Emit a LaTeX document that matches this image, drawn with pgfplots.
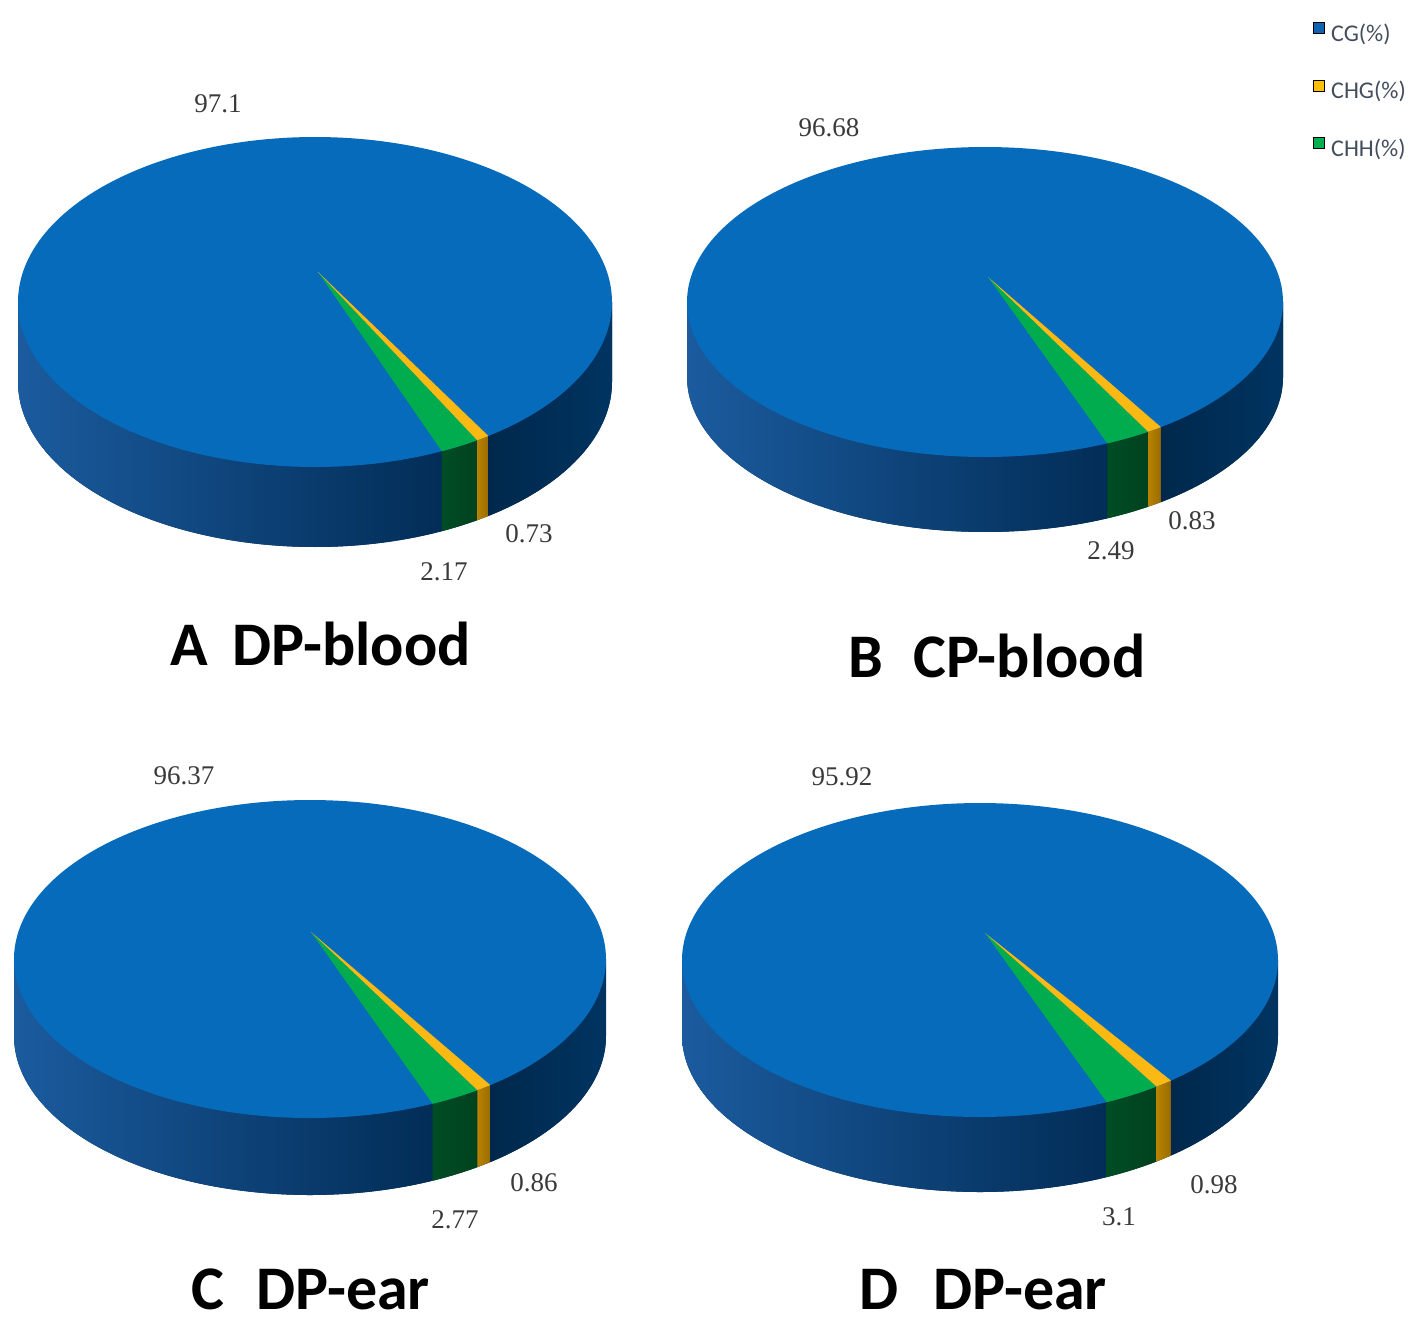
\documentclass[border=0pt]{standalone}
\usepackage{fontspec}
\setmainfont{Carlito}
\newfontfamily\lserif{Liberation Serif}
\usepackage{pgfplots}
\pgfplotsset{compat=1.18}
\definecolor{topblue}{HTML}{066BBA}
\definecolor{topgreen}{HTML}{00AC4E}
\definecolor{topyellow}{HTML}{FDB913}
\definecolor{sideL}{HTML}{1B5B9E}
\definecolor{sideM}{HTML}{0F4E8D}
\definecolor{sideR}{HTML}{022D57}
\definecolor{sideRR}{HTML}{00284C}
\definecolor{sideRRR}{HTML}{003461}
\definecolor{sidegreenL}{HTML}{004D24}
\definecolor{sidegreenR}{HTML}{00421E}
\definecolor{sideyellowL}{HTML}{B88300}
\definecolor{sideyellowR}{HTML}{9A6C00}
\definecolor{labgray}{HTML}{3A3A3A}
\definecolor{legtext}{HTML}{434D5B}
\definecolor{legblue}{HTML}{0F63B0}
\definecolor{legyellow}{HTML}{FFC000}
\definecolor{leggreen}{HTML}{00B050}

% #1 cx, #2 cy, #3 rx, #4 ry, #5 depth, #6 apex x, #7 apex y, #8 mid angle of small slices
% slice values in \vCHG and \vCHH (CG takes the rest)
\newcommand{\drawpie}[8]{%
 \pgfmathsetmacro\ye{360+#8+(\vCHG+\vCHH)*1.8}%
 \pgfmathsetmacro\ys{\ye-\vCHG*3.6}%
 \pgfmathsetmacro\gs{\ys-\vCHH*3.6}%
 \pgfmathsetmacro\xgs{#1+#3*cos(\gs)}%
 \pgfmathsetmacro\xys{#1+#3*cos(\ys)}%
 \pgfmathsetmacro\xye{#1+#3*cos(\ye)}%
 \pgfmathsetmacro\xL{#1-#3}%
 \pgfmathsetmacro\xR{#1+#3}%
 \edef\doit{%
  \noexpand\addplot[draw=none, fill=sideR, domain=180:360, samples=150, forget plot]
    ({#1+#3*cos(x)},{#2+#5-#4*sin(x)}) -- (axis cs:\xR,#2) -- (axis cs:\xL,#2) -- cycle;
  \noexpand\addplot[draw=none, left color=sideL, middle color=sideM, right color=sideR, domain=180:\gs, samples=120, forget plot]
    ({#1+#3*cos(x)},{#2+#5-#4*sin(x)}) -- (axis cs:\xgs,#2) -- (axis cs:\xL,#2) -- cycle;
  \noexpand\addplot[draw=none, left color=sidegreenL, right color=sidegreenR, domain=\gs:\ys, samples=20, forget plot]
    ({#1+#3*cos(x)},{#2+#5-#4*sin(x)}) -- (axis cs:\xys,#2) -- (axis cs:\xgs,#2) -- cycle;
  \noexpand\addplot[draw=none, left color=sideyellowL, right color=sideyellowR, domain=\ys:\ye, samples=10, forget plot]
    ({#1+#3*cos(x)},{#2+#5-#4*sin(x)}) -- (axis cs:\xye,#2) -- (axis cs:\xys,#2) -- cycle;
  \noexpand\addplot[draw=none, left color=sideRR, right color=sideRRR, domain=\ye:360, samples=80, forget plot]
    ({#1+#3*cos(x)},{#2+#5-#4*sin(x)}) -- (axis cs:\xR,#2) -- (axis cs:\xye,#2) -- cycle;
  \noexpand\addplot[draw=none, fill=topblue, domain=0:360, samples=240, forget plot]
    ({#1+#3*cos(x)},{#2-#4*sin(x)}) -- cycle;
  \noexpand\addplot[draw=none, fill=topgreen, domain=\gs:\ys, samples=20, forget plot]
    ({#1+#3*cos(x)},{#2-#4*sin(x)}) -- (axis cs:#6,#7) -- cycle;
  \noexpand\addplot[draw=none, fill=topyellow, domain=\ys:\ye, samples=10, forget plot]
    ({#1+#3*cos(x)},{#2-#4*sin(x)}) -- (axis cs:#6,#7) -- cycle;
 }\doit
}

\begin{document}
\begin{tikzpicture}
\begin{axis}[
  width=708.5pt, height=666pt, scale only axis,
  xmin=0, xmax=1417, ymin=0, ymax=1332, y dir=reverse,
  hide axis, clip=false,
  legend image code/.code={\fill[#1] (0pt,0.75pt) rectangle (5.5pt,6.25pt);},
  legend cell align=left,
  legend style={at={(axis cs:1313,21)}, anchor=north west, draw=none, fill=none,
    inner sep=0pt, row sep=14.75pt, font=\fontsize{12}{14}\selectfont, text=legtext,
    nodes={inner sep=1pt, text height=9pt, text depth=3pt},
    /tikz/every odd column/.append style={column sep=2pt}},
]
% keep the whole canvas in the bounding box
\path (axis cs:0,0) rectangle (axis cs:1417,1332);

\addlegendimage{fill=legblue}
\addlegendentry{CG(\%)}
\addlegendimage{fill=legyellow}
\addlegendentry{CHG(\%)}
\addlegendimage{fill=leggreen}
\addlegendentry{CHH(\%)}

% A  DP-blood: CG 97.1, CHG 0.73, CHH 2.17
\def\vCG{97.1}\def\vCHG{0.73}\def\vCHH{2.17}
\drawpie{315}{302}{297}{165}{80}{318}{272}{-59.5}
% B  CP-blood: CG 96.68, CHG 0.83, CHH 2.49
\def\vCG{96.68}\def\vCHG{0.83}\def\vCHH{2.49}
\drawpie{985}{302}{298}{155}{75}{988}{277}{-59.8}
% C  DP-ear: CG 96.37, CHG 0.86, CHH 2.77
\def\vCG{96.37}\def\vCHG{0.86}\def\vCHH{2.77}
\drawpie{310}{959}{296}{159}{77}{311}{932}{-59}
% D  DP-ear: CG 95.92, CHG 0.98, CHH 3.1
\def\vCG{95.92}\def\vCHG{0.98}\def\vCHH{3.1}
\drawpie{980}{960}{298}{157}{75}{985}{933}{-57.5}

\tikzset{lab/.style={font=\lserif\fontsize{13.5}{15}\selectfont, text=labgray, inner sep=0pt},
         ttl/.style={anchor=base west, inner sep=0pt, font=\fontsize{31}{36}\selectfont\bfseries}}
\node[lab] at (axis cs:218,104) {97.1};
\node[lab] at (axis cs:529,534) {0.73};
\node[lab] at (axis cs:444,572) {2.17};
\node[lab] at (axis cs:829,128) {96.68};
\node[lab] at (axis cs:1192,521) {0.83};
\node[lab] at (axis cs:1111,551) {2.49};
\node[lab] at (axis cs:184,776) {96.37};
\node[lab] at (axis cs:534,1183) {0.86};
\node[lab] at (axis cs:455,1220) {2.77};
\node[lab] at (axis cs:842,777) {95.92};
\node[lab] at (axis cs:1214,1185) {0.98};
\node[lab] at (axis cs:1119,1217) {3.1};

\node[ttl] at (axis cs:170,665) {A};
\node[ttl] at (axis cs:232,665) {DP-blood};
\node[ttl] at (axis cs:848,677) {B};
\node[ttl] at (axis cs:913,677) {CP-blood};
\node[ttl] at (axis cs:191,1309) {C};
\node[ttl] at (axis cs:256,1309) {DP-ear};
\node[ttl] at (axis cs:859,1309) {D};
\node[ttl] at (axis cs:933,1309) {DP-ear};
\end{axis}
\end{tikzpicture}
\end{document}
